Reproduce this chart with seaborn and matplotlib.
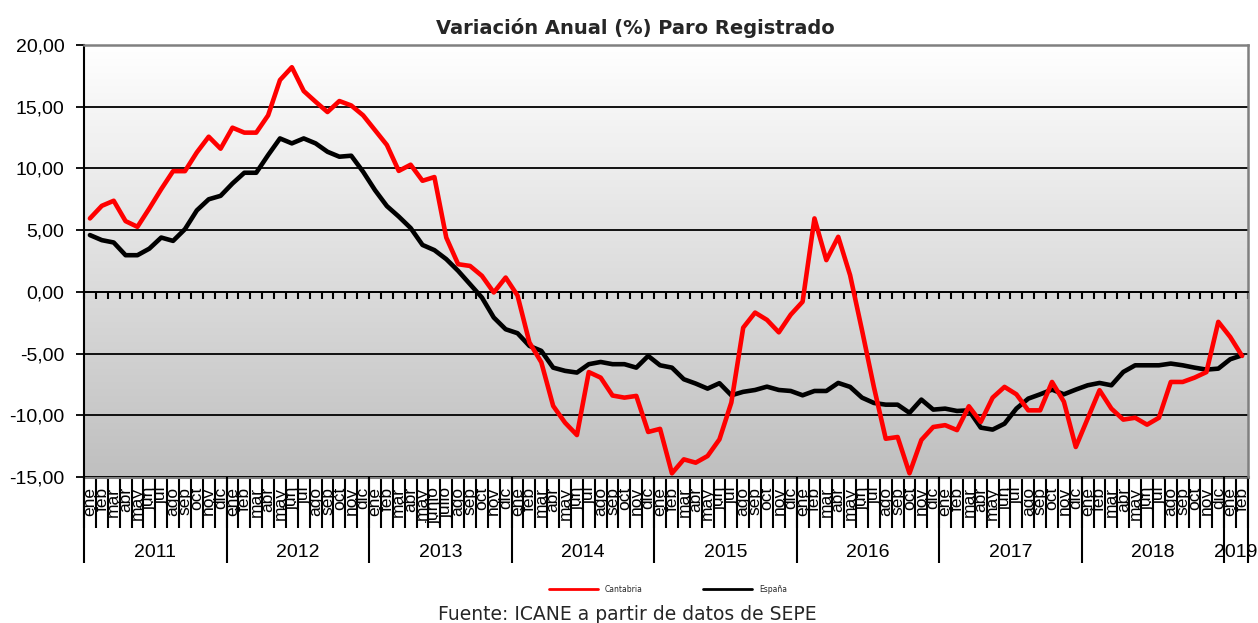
import numpy as np
import pandas as pd
import matplotlib
matplotlib.use("Agg")
import matplotlib.pyplot as plt
from matplotlib.colors import LinearSegmentedColormap
from matplotlib.lines import Line2D
from matplotlib.ticker import FuncFormatter, FixedLocator
import seaborn as sns

# ---------------- data ----------------
years = ["2011", "2012", "2013", "2014", "2015", "2016", "2017", "2018", "2019"]
meses = ["ene", "feb", "mar", "abr", "may", "jun", "jul", "ago", "sep", "oct", "nov", "dic"]
meses_2013 = ["ene", "feb", "mar", "abr", "may", "junio", "julio", "ago", "sep", "oct", "nov", "dic"]
meses_2019 = ["ene", "feb"]

cantabria = [
    5.95, 6.97, 7.38, 5.73, 5.27, 6.76, 8.32, 9.78, 9.78, 11.3, 12.57, 11.6,
    13.3, 12.9, 12.9, 14.3, 17.16, 18.2, 16.27, 15.4, 14.57, 15.46, 15.1, 14.3,
    13.1, 11.9, 9.8, 10.3, 9.0, 9.3, 4.4, 2.24, 2.1, 1.3, -0.05, 1.16,
    -0.3, -4.1, -5.7, -9.24, -10.6, -11.6, -6.5, -6.95, -8.4, -8.57, -8.43, -11.35,
    -11.1, -14.7, -13.57, -13.84, -13.3, -11.95, -8.97, -2.9, -1.68, -2.27, -3.28, -1.85,
    -0.8, 5.95, 2.57, 4.46, 1.35, -3.1, -7.7, -11.9, -11.76, -14.7, -12.0, -10.95,
    -10.8, -11.2, -9.27, -10.54, -8.57, -7.7, -8.3, -9.6, -9.6, -7.3, -8.9, -12.57,
    -10.27, -7.97, -9.46, -10.35, -10.2, -10.76, -10.2, -7.3, -7.3, -6.95, -6.5, -2.43,
    -3.65, -5.19,
]
espana = [
    4.6, 4.19, 4.0, 2.97, 2.97, 3.5, 4.4, 4.13, 5.08, 6.6, 7.5, 7.78,
    8.78, 9.65, 9.65, 11.08, 12.43, 12.03, 12.43, 12.03, 11.35, 10.95, 11.03, 9.73,
    8.24, 6.95, 6.1, 5.17, 3.8, 3.38, 2.65, 1.7, 0.62, -0.46, -2.08, -3.03,
    -3.35, -4.38, -4.78, -6.14, -6.4, -6.54, -5.86, -5.68, -5.86, -5.86, -6.14, -5.19,
    -5.95, -6.14, -7.08, -7.43, -7.84, -7.4, -8.38, -8.1, -7.95, -7.68, -7.95, -8.03,
    -8.38, -8.03, -8.03, -7.38, -7.7, -8.57, -9.0, -9.14, -9.14, -9.8, -8.73, -9.54,
    -9.46, -9.65, -9.6, -11.0, -11.16, -10.68, -9.46, -8.65, -8.3, -7.92, -8.3, -7.92,
    -7.57, -7.38, -7.57, -6.49, -5.95, -5.95, -5.95, -5.81, -5.95, -6.14, -6.3, -6.22,
    -5.46, -5.14,
]
series_names = ["Cantabria", "España"]
colors = {"Cantabria": "#ff0000", "España": "#000000"}

# month labels
month_labels = []
year_sizes = []
for y in years:
    if y == "2013":
        ml = meses_2013
    elif y == "2019":
        ml = meses_2019
    else:
        ml = meses
    month_labels += ml
    year_sizes.append(len(ml))
n = len(month_labels)
idx = np.arange(n)

df = pd.concat([
    pd.DataFrame({"idx": idx, "valor": espana, "serie": "España"}),
    pd.DataFrame({"idx": idx, "valor": cantabria, "serie": "Cantabria"}),
])

# ---------------- style ----------------
sns.set_theme(style="white")
plt.rcParams["font.family"] = ["Liberation Sans", "DejaVu Sans"]

fig = plt.figure(figsize=(12.58, 6.23), dpi=100)
ax = fig.add_axes([84 / 1258, 1 - 477 / 623, (1248 - 84) / 1258, (477 - 45) / 623])

# gradient background (white at top -> grey at bottom)
grad = np.linspace(0, 1, 256).reshape(-1, 1)
cmap = LinearSegmentedColormap.from_list("g", ["#ffffff", "#bfbfbf"])
ax.imshow(grad, extent=[0, 1, 0, 1], transform=ax.transAxes, aspect="auto",
          cmap=cmap, zorder=0, vmin=0, vmax=1, origin="upper")

sns.lineplot(data=df, x="idx", y="valor", hue="serie", hue_order=["España", "Cantabria"],
             palette=colors, linewidth=3.3, legend=False, ax=ax, zorder=3)

ax.set_xlim(-0.5, n - 0.5)
ax.set_ylim(-15, 20)
ax.set_xlabel("")
ax.set_ylabel("")

# y axis
ax.set_yticks(np.arange(-15, 20.1, 5))
ax.yaxis.set_major_formatter(FuncFormatter(lambda v, p: f"{v:.2f}".replace(".", ",")))
ax.tick_params(axis="y", direction="out", length=6, width=1.3, color="black",
               labelsize=14, pad=8, left=True, labelcolor="black")
ax.set_axisbelow(True)
ax.yaxis.grid(True, color="black", linewidth=1.3)
ax.xaxis.grid(False)

# spines
ax.spines["left"].set_color("black")
ax.spines["left"].set_linewidth(1.5)
for s in ["top", "right"]:
    ax.spines[s].set_color("#808080")
    ax.spines[s].set_linewidth(1.8)
ax.spines["bottom"].set_position(("data", 0))
ax.spines["bottom"].set_color("black")
ax.spines["bottom"].set_linewidth(1.3)

# axis at zero: small ticks at category boundaries, no labels
ax.xaxis.set_major_locator(FixedLocator([]))
ax.xaxis.set_minor_locator(FixedLocator(np.arange(-0.5, n, 1.0)))
ax.tick_params(axis="x", which="minor", direction="out", length=5, width=1.5,
               color="black", bottom=True)
ax.tick_params(axis="x", which="major", labelbottom=False, bottom=False)

# month labels on a secondary axis at the bottom of the plot
sec = ax.secondary_xaxis(0.0)
sec.set_xticks(idx, labels=month_labels)
sec.xaxis.set_minor_locator(FixedLocator(np.arange(-0.5, n, 1.0)))
sec.tick_params(axis="x", which="major", length=0, pad=7, labelsize=12.5,
                labelrotation=90, colors="black")
sec.tick_params(axis="x", which="minor", direction="out", length=37, width=1.5,
                color="black")
sec.spines["bottom"].set_color("#808080")
sec.spines["bottom"].set_linewidth(2.2)

# year labels
bounds = np.concatenate([[0], np.cumsum(year_sizes)]) - 0.5
centers = (bounds[:-1] + bounds[1:]) / 2
sec2 = ax.secondary_xaxis(0.0)
sec2.set_xticks(centers, labels=years)
sec2.xaxis.set_minor_locator(FixedLocator(bounds))
sec2.tick_params(axis="x", which="major", length=0, pad=48, labelsize=14,
                 colors="black")
sec2.tick_params(axis="x", which="minor", direction="out", length=62, width=1.5,
                 color="black")
sec2.spines["bottom"].set_visible(False)

# title
fig.text(0.505, 0.955, "Variación Anual (%) Paro Registrado", ha="center", va="center",
         fontsize=14, fontweight="bold", family="DejaVu Sans")

# legend
handles = [Line2D([0], [0], color=colors[s], linewidth=2) for s in series_names]
fig.legend(handles, series_names, loc="center", bbox_to_anchor=(668 / 1258, 1 - 589 / 623),
           ncol=2, frameon=False, prop={"family": "DejaVu Sans", "size": 5.5},
           handlelength=6.4, columnspacing=8, handletextpad=0.9)

# source
fig.text(0.499, 1 - 615 / 623, "Fuente: ICANE a partir de datos de SEPE", ha="center",
         va="center", fontsize=13.5, family="DejaVu Sans")

fig.savefig("out.png", dpi=100)
